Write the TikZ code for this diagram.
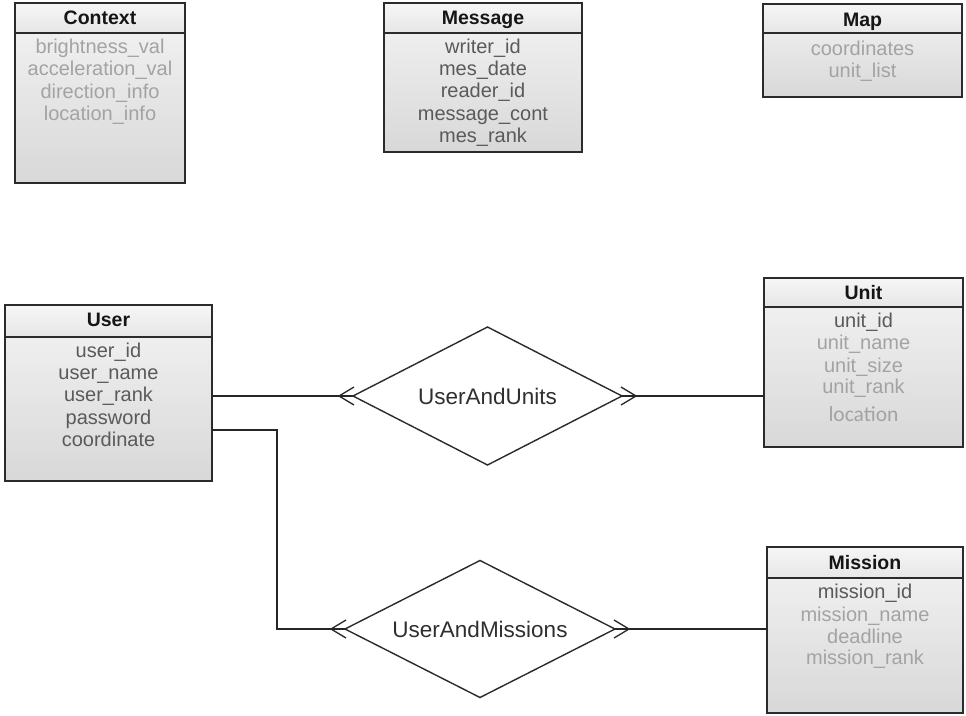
\documentclass[tikz,border=0pt]{standalone}
\usepackage{fontspec}
\setmainfont{Liberation Sans}
\newfontfamily\carlitofont{Carlito}
\usetikzlibrary{shapes.geometric,calc}

\definecolor{edgecol}{HTML}{2B2B2B}
\definecolor{boxtop}{HTML}{F4F4F4}
\definecolor{boxbot}{HTML}{D8D8D8}
\definecolor{hdtop}{HTML}{F6F6F6}
\definecolor{hdbot}{HTML}{E6E6E6}
\definecolor{keytext}{HTML}{5A5A5A}
\definecolor{softtext}{HTML}{A3A3A3}
\definecolor{titletext}{HTML}{151515}
\definecolor{reltext}{HTML}{2F2F2F}

\tikzset{
  entity/.style={draw=edgecol, line width=1.4pt, top color=boxtop, bottom color=boxbot,
    anchor=north west, inner sep=0pt, outer sep=0pt},
  header/.style={draw=edgecol, line width=1.4pt, top color=hdtop, bottom color=hdbot},
  title/.style={anchor=base, inner sep=0pt, text=titletext,
    font=\fontsize{19.5}{22}\selectfont\bfseries},
  keyattr/.style={anchor=base, inner sep=0pt, text=keytext,
    font=\fontsize{20}{22}\selectfont},
  softattr/.style={anchor=base, inner sep=0pt, text=softtext,
    font=\fontsize{20}{22}\selectfont},
  relation/.style={draw=edgecol, line width=1.4pt, fill=white, shape=diamond,
    shape aspect=2, inner sep=0pt, outer sep=0pt, text=reltext,
    font=\fontsize{22.5}{26}\selectfont},
  link/.style={draw=black!85, line width=1.3pt},
  foot/.style={draw=black!85, line width=1.3pt, line join=miter},
}

\begin{document}
\begin{tikzpicture}[x=1pt, y=-1pt]
\useasboundingbox[fill=white] (0,0) rectangle (966,715);

% ---------- Context ----------
\node[entity, minimum width=170pt, minimum height=180pt] (context) at (15,3) {};
\draw[header] (context.north west) rectangle ($(context.north east)+(0,30)$);
\node[title] (context-t) at ($(context.north)+(0,21)$) {Context};
\foreach \t [count=\i] in {brightness\_val, acceleration\_val, direction\_info, location\_info}
  \node[softattr] (context-\i) at ($(context.north)+(0,27.5+22.5*\i)$) {\t};

% ---------- Message ----------
\node[entity, minimum width=198pt, minimum height=149pt] (message) at (384,3) {};
\draw[header] (message.north west) rectangle ($(message.north east)+(0,30)$);
\node[title] (message-t) at ($(message.north)+(0,21)$) {Message};
\foreach \t [count=\i] in {writer\_id, mes\_date, reader\_id, message\_cont, mes\_rank}
  \node[keyattr] (message-\i) at ($(message.north)+(0,28+22.3*\i)$) {\t};

% ---------- Map ----------
\node[entity, minimum width=199pt, minimum height=93pt] (map) at (763,4) {};
\draw[header] (map.north west) rectangle ($(map.north east)+(0,29)$);
\node[title] (map-t) at ($(map.north)+(0,22)$) {Map};
\node[softattr] (map-1) at ($(map.north)+(0,51)$) {coordinates};
\node[softattr] (map-2) at ($(map.north)+(0,73)$) {unit\_list};

% ---------- User ----------
\node[entity, minimum width=207pt, minimum height=176pt] (user) at (5,305) {};
\draw[header] (user.north west) rectangle ($(user.north east)+(0,32)$);
\node[title] (user-t) at ($(user.north)+(0,21)$) {User};
\foreach \t [count=\i] in {user\_id, user\_name, user\_rank, password, coordinate}
  \node[keyattr] (user-\i) at ($(user.north)+(0,30+22.3*\i)$) {\t};

% ---------- Unit ----------
\node[entity, minimum width=199pt, minimum height=169pt] (unit) at (764,278) {};
\draw[header] (unit.north west) rectangle ($(unit.north east)+(0,29)$);
\node[title] (unit-t) at ($(unit.north)+(0,21)$) {Unit};
\node[keyattr] (unit-1) at ($(unit.north)+(0,49)$) {unit\_id};
\node[softattr] (unit-2) at ($(unit.north)+(0,71)$) {unit\_name};
\node[softattr] (unit-3) at ($(unit.north)+(0,94)$) {unit\_size};
\node[softattr] (unit-4) at ($(unit.north)+(0,115)$) {unit\_rank};
\node[softattr, font=\fontsize{21.5}{24}\carlitofont] (unit-5) at ($(unit.north)+(0,143)$) {location};

% ---------- Mission ----------
\node[entity, minimum width=196pt, minimum height=166pt] (mission) at (767,547) {};
\draw[header] (mission.north west) rectangle ($(mission.north east)+(0,31)$);
\node[title] (mission-t) at ($(mission.north)+(0,22)$) {Mission};
\node[keyattr] (mission-1) at ($(mission.north)+(0,51)$) {mission\_id};
\node[softattr] (mission-2) at ($(mission.north)+(0,74)$) {mission\_name};
\node[softattr] (mission-3) at ($(mission.north)+(0,96)$) {deadline};
\node[softattr] (mission-4) at ($(mission.north)+(0,117)$) {mission\_rank};

% ---------- Relationships ----------
\node[relation, minimum width=269pt, minimum height=138pt] (uau) at (487.5,396) {UserAndUnits};
\node[relation, minimum width=270pt, minimum height=137pt] (uam) at (480,629) {UserAndMissions};

% ---------- Connectors ----------
\draw[link] (user.east |- uau.west) -- (uau.west);
\draw[link] (uau.east) -- (unit.west |- uau.east);
\draw[link] ($(user.north east)+(0,125)$) -| ($(uam.west)+(-68,0)$) -- (uam.west);
\draw[link] (uam.east) -- (mission.west |- uam.east);

% crow's feet at the diamond tips
\draw[foot] ($(uau.west)+(1,-9)$) -- ($(uau.west)+(-14,0)$) -- ($(uau.west)+(1,9)$);
\draw[foot] ($(uau.east)+(-1,-9)$) -- ($(uau.east)+(14,0)$) -- ($(uau.east)+(-1,9)$);
\draw[foot] ($(uam.west)+(1,-9)$) -- ($(uam.west)+(-14,0)$) -- ($(uam.west)+(1,9)$);
\draw[foot] ($(uam.east)+(-1,-9)$) -- ($(uam.east)+(14,0)$) -- ($(uam.east)+(-1,9)$);
\end{tikzpicture}
\end{document}
